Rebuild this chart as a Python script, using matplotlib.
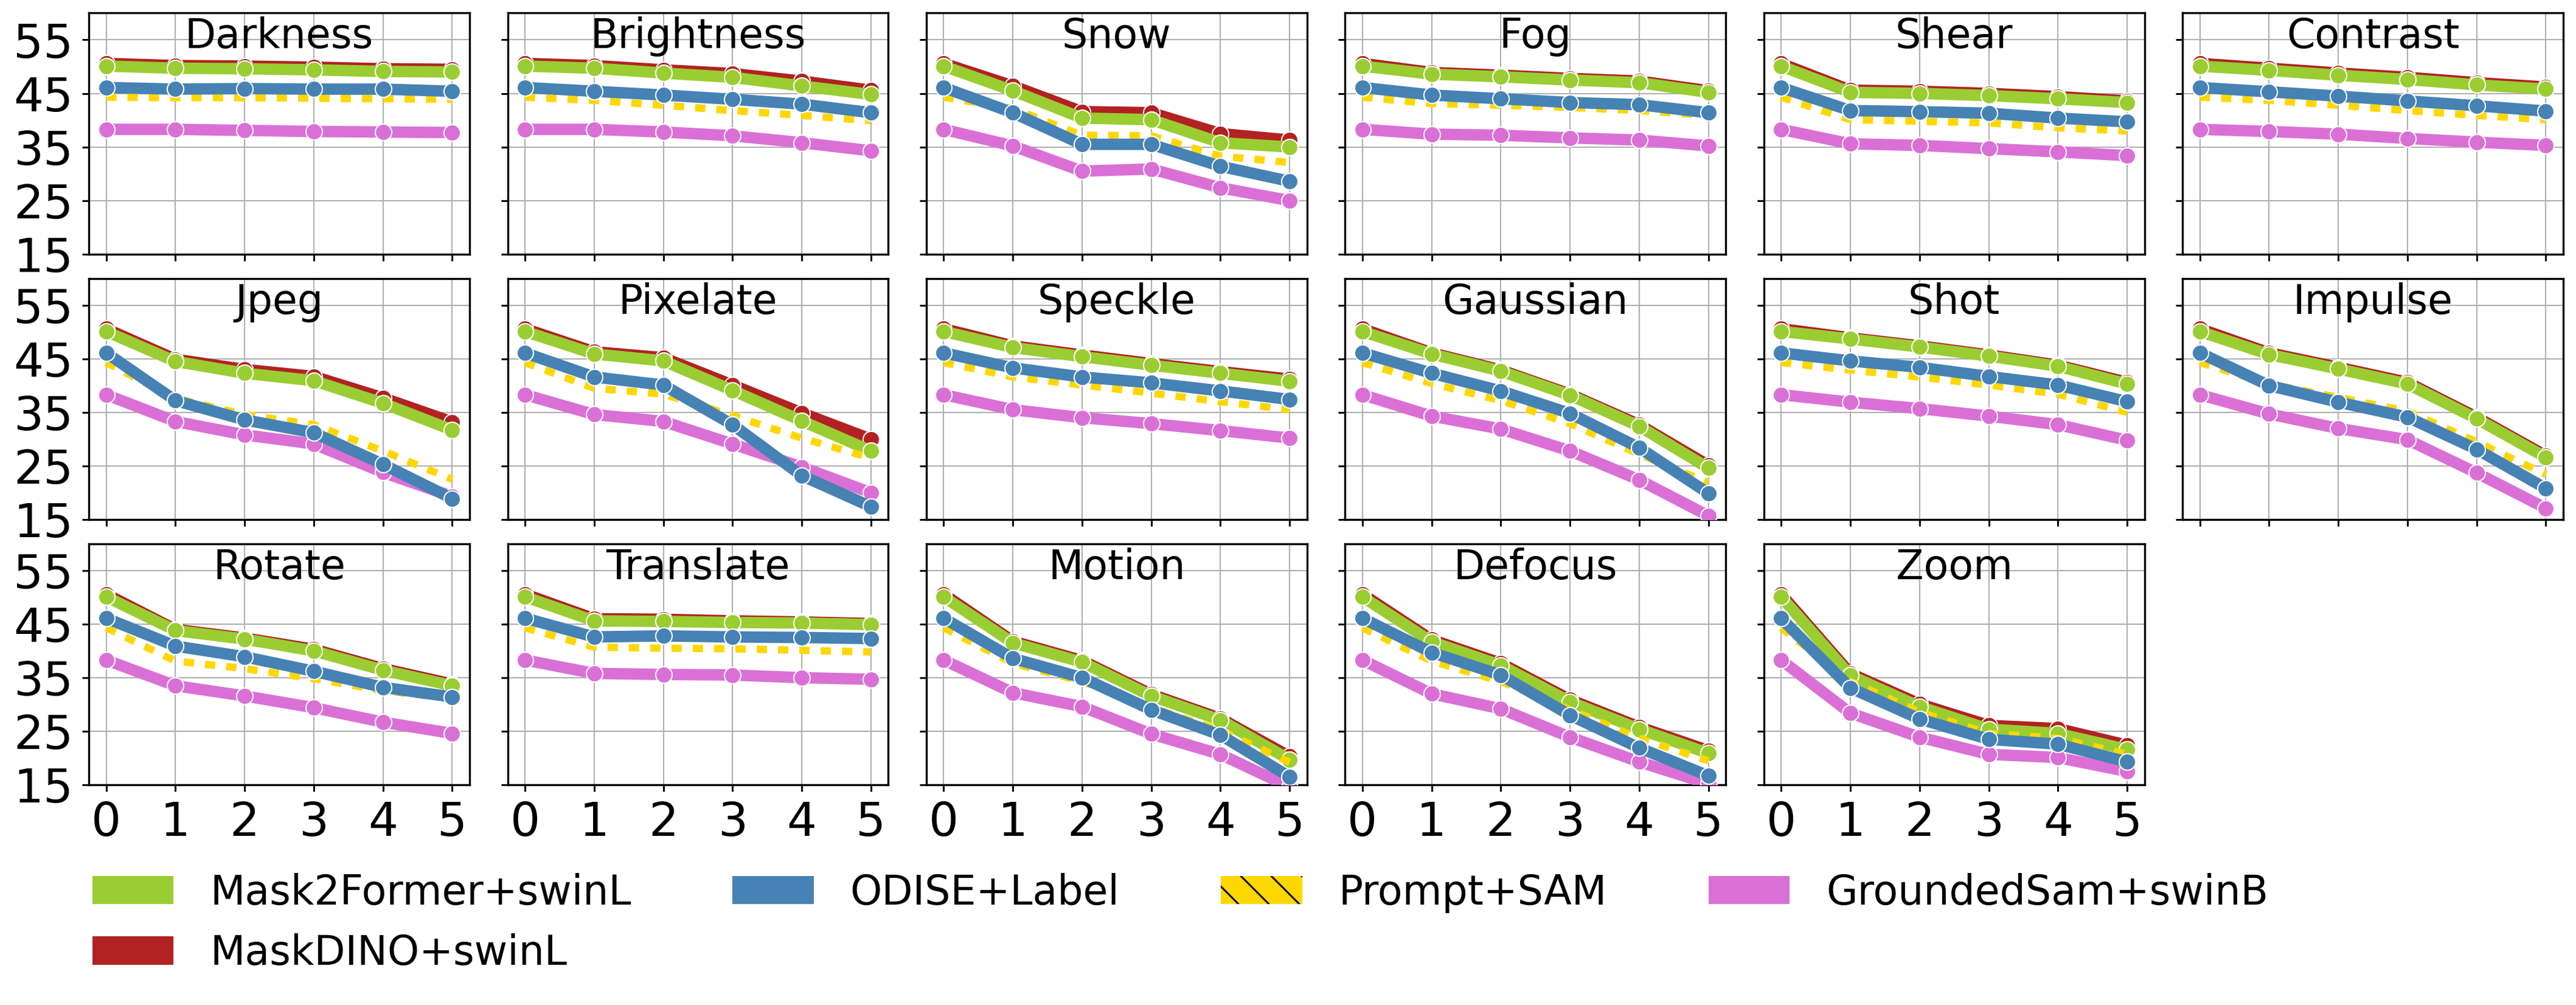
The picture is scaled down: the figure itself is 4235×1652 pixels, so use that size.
import matplotlib
matplotlib.use("Agg")
import matplotlib.pyplot as plt
from matplotlib.patches import Patch

# severity levels and corruption names
levels = [0, 1, 2, 3, 4, 5]
corruptions = ["Darkness", "Brightness", "Snow", "Fog", "Shear", "Contrast",
               "Jpeg", "Pixelate", "Speckle", "Gaussian", "Shot", "Impulse",
               "Rotate", "Translate", "Motion", "Defocus", "Zoom"]

maskdino = [
    [50.6, 50.2, 50.1, 49.9, 49.6, 49.5],
    [50.6, 50.2, 49.4, 48.7, 47.3, 45.6],
    [50.6, 46.4, 41.6, 41.4, 37.5, 36.3],
    [50.6, 48.9, 48.4, 47.8, 47.3, 45.5],
    [50.6, 45.6, 45.4, 45.0, 44.4, 43.6],
    [50.6, 49.7, 48.8, 48.0, 47.0, 46.2],
    [50.6, 44.9, 43.0, 41.7, 37.7, 33.2],
    [50.6, 46.3, 45.2, 40.1, 34.9, 30.0],
    [50.6, 47.4, 45.7, 44.1, 42.6, 41.2],
    [50.6, 46.1, 42.9, 38.4, 32.7, 25.1],
    [50.6, 48.9, 47.4, 45.7, 43.8, 40.6],
    [50.6, 46.1, 43.4, 40.6, 34.1, 26.9],
    [50.6, 44.0, 42.4, 40.3, 36.7, 33.8],
    [50.6, 46.0, 45.9, 45.6, 45.4, 45.1],
    [50.6, 41.8, 38.2, 31.9, 27.4, 20.3],
    [50.6, 42.1, 37.7, 30.9, 25.8, 21.4],
    [50.6, 35.8, 30.1, 26.1, 25.5, 22.4],
]

mask2former = [
    [50.1, 49.7, 49.6, 49.4, 49.1, 49.0],
    [50.1, 49.7, 48.8, 48.0, 46.4, 44.8],
    [50.1, 45.5, 40.4, 40.1, 35.8, 35.0],
    [50.1, 48.6, 48.1, 47.5, 47.0, 45.2],
    [50.1, 45.2, 45.0, 44.6, 44.0, 43.3],
    [50.1, 49.3, 48.4, 47.6, 46.6, 45.8],
    [50.1, 44.5, 42.3, 40.9, 36.7, 31.7],
    [50.1, 45.9, 44.6, 39.1, 33.4, 27.8],
    [50.1, 47.1, 45.4, 43.8, 42.3, 40.8],
    [50.1, 45.9, 42.7, 38.2, 32.4, 24.6],
    [50.1, 48.7, 47.2, 45.5, 43.6, 40.3],
    [50.1, 45.8, 43.1, 40.3, 33.8, 26.6],
    [50.1, 43.8, 42.2, 40.0, 36.4, 33.5],
    [50.1, 45.6, 45.5, 45.3, 45.2, 44.9],
    [50.1, 41.5, 37.9, 31.6, 27.1, 19.7],
    [50.1, 41.7, 37.3, 30.5, 25.4, 20.9],
    [50.1, 35.4, 29.6, 25.4, 24.6, 21.6],
]

odise = [
    [46.1, 45.8, 45.9, 45.8, 45.8, 45.4],
    [46.1, 45.4, 44.7, 43.9, 43.0, 41.4],
    [46.1, 41.4, 35.5, 35.5, 31.4, 28.6],
    [46.1, 44.7, 44.0, 43.3, 42.9, 41.4],
    [46.1, 41.8, 41.6, 41.3, 40.4, 39.7],
    [46.1, 45.3, 44.5, 43.6, 42.7, 41.7],
    [46.1, 37.2, 33.6, 31.2, 25.3, 18.9],
    [46.1, 41.6, 40.1, 32.7, 23.2, 17.4],
    [46.1, 43.3, 41.6, 40.5, 39.0, 37.4],
    [46.1, 42.3, 39.0, 34.8, 28.4, 19.9],
    [46.1, 44.6, 43.4, 41.7, 40.1, 37.0],
    [46.1, 40.0, 36.9, 34.1, 28.1, 20.8],
    [46.1, 40.9, 38.9, 36.2, 33.2, 31.4],
    [46.1, 42.6, 42.8, 42.6, 42.5, 42.3],
    [46.1, 38.6, 35.0, 29.0, 24.3, 16.5],
    [46.1, 39.7, 35.5, 28.0, 21.9, 16.7],
    [46.1, 33.1, 27.3, 23.5, 22.6, 19.3],
]

prompt_sam = [
    [44.3, 44.2, 44.2, 44.1, 44.0, 43.9],
    [44.3, 43.7, 42.8, 41.8, 40.9, 39.9],
    [44.3, 42.2, 37.2, 37.1, 33.3, 32.1],
    [44.3, 43.1, 42.8, 42.4, 41.8, 40.9],
    [44.3, 40.1, 39.8, 39.5, 38.6, 38.0],
    [44.3, 43.7, 42.8, 41.8, 40.9, 40.1],
    [44.3, 37.6, 34.6, 32.7, 27.8, 22.5],
    [44.3, 39.5, 38.4, 34.4, 30.2, 26.5],
    [44.3, 41.6, 40.1, 38.6, 37.0, 35.5],
    [44.3, 40.4, 37.2, 32.9, 27.2, 21.9],
    [44.3, 42.9, 41.6, 40.1, 38.4, 35.0],
    [44.3, 40.3, 37.8, 35.2, 29.5, 23.4],
    [44.3, 38.1, 36.7, 34.8, 32.6, 31.1],
    [44.3, 40.7, 40.5, 40.4, 40.1, 39.8],
    [44.3, 37.7, 34.3, 29.4, 25.2, 19.2],
    [44.3, 38.1, 34.3, 29.0, 23.7, 19.5],
    [44.3, 34.3, 28.6, 24.6, 23.7, 20.7],
]

grounded_sam = [
    [38.3, 38.3, 38.1, 37.9, 37.8, 37.7],
    [38.3, 38.3, 37.8, 37.1, 35.8, 34.3],
    [38.3, 35.2, 30.5, 30.9, 27.4, 25.0],
    [38.3, 37.4, 37.2, 36.7, 36.3, 35.2],
    [38.3, 35.6, 35.3, 34.7, 34.1, 33.4],
    [38.3, 37.9, 37.4, 36.6, 35.9, 35.3],
    [38.3, 33.3, 30.8, 29.1, 23.8, 19.3],
    [38.3, 34.6, 33.3, 29.1, 24.8, 20.0],
    [38.3, 35.5, 34.0, 32.9, 31.6, 30.2],
    [38.3, 34.3, 31.9, 27.8, 22.4, 15.7],
    [38.3, 36.9, 35.7, 34.3, 32.7, 29.8],
    [38.3, 34.7, 32.0, 29.9, 23.7, 17.1],
    [38.3, 33.5, 31.6, 29.4, 26.7, 24.6],
    [38.3, 35.8, 35.6, 35.5, 35.0, 34.7],
    [38.3, 32.2, 29.6, 24.5, 20.7, 14.6],
    [38.3, 32.0, 29.2, 23.9, 19.3, 15.2],
    [38.3, 28.4, 23.9, 20.7, 20.1, 17.5],
]

FS = 18.5
LW = 4.5
MS = 6.5

plt.rcParams["hatch.linewidth"] = 0.7

fig, axes = plt.subplots(3, 6, figsize=(14.117, 5.507), dpi=300, sharex=True, sharey=True)
fig.subplots_adjust(left=0.0345, right=0.995, top=0.987, bottom=0.219, wspace=0.1, hspace=0.1)

for i, name in enumerate(corruptions):
    ax = axes.flat[i]
    ax.plot(levels, maskdino[i], color="firebrick", lw=LW, marker="o", ms=MS,
            mec="white", mew=0.5, zorder=2)
    ax.plot(levels, mask2former[i], color="yellowgreen", lw=LW, marker="o", ms=MS,
            mec="white", mew=0.5, zorder=3)
    ax.plot(levels, grounded_sam[i], color="orchid", lw=LW, marker="o", ms=MS,
            mec="white", mew=0.5, zorder=4)
    ax.plot(levels, prompt_sam[i], color="gold", lw=2.9, dashes=(1.4, 1.5),
            dash_capstyle="butt", zorder=5)
    ax.plot(levels, odise[i], color="steelblue", lw=LW, marker="o", ms=MS,
            mec="white", mew=0.5, zorder=6)

    ax.text(0.5, 0.985, name, transform=ax.transAxes, ha="center", va="top",
            fontsize=16, zorder=10)
    ax.set_ylim(15, 60)
    ax.set_yticks([15, 25, 35, 45, 55])
    ax.set_xticks(levels)
    ax.grid(color="#b0b0b0", lw=0.5)
    ax.set_axisbelow(True)
    ax.tick_params(labelsize=FS, length=2.7, width=0.7)

axes.flat[-1].remove()

# legend filled column by column, so MaskDINO goes second to land under Mask2Former
handles = [
    Patch(facecolor="yellowgreen", label="Mask2Former+swinL"),
    Patch(facecolor="firebrick", label="MaskDINO+swinL"),
    Patch(facecolor="steelblue", label="ODISE+Label"),
    Patch(facecolor="gold", hatch="\\\\", edgecolor="black", lw=0, label="Prompt+SAM"),
    Patch(facecolor="orchid", label="GroundedSam+swinB"),
]
fig.legend(handles=handles, loc="upper left", bbox_to_anchor=(0.0217, 0.168),
           ncol=4, frameon=False, fontsize=16, handletextpad=0.9, columnspacing=2.5)

fig.savefig("out.png", dpi=300)
